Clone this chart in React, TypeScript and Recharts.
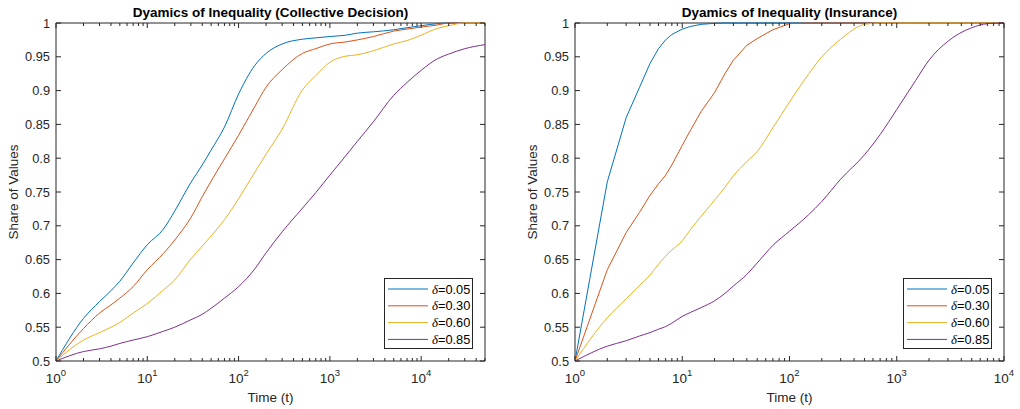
import { LineChart, Line, XAxis, YAxis, ReferenceArea } from "recharts";

// time steps sampled along each curve (log axis)
const leftTime = [1, 2, 3, 4, 5, 7, 10, 15, 20, 30, 40, 50, 70, 100, 150, 200, 300, 500, 700, 1000, 1500, 2000, 3000, 5000, 7000, 10000, 15000, 20000, 30000, 50000];
const leftD005 = [0.5, 0.563, 0.588, 0.604, 0.618, 0.645, 0.672, 0.695, 0.722, 0.764, 0.79, 0.812, 0.846, 0.895, 0.937, 0.955, 0.969, 0.976, 0.978, 0.98, 0.982, 0.985, 0.987, 0.99, 0.993, 0.996, 0.999, 1, 1, 1];
const leftD030 = [0.5, 0.548, 0.571, 0.583, 0.593, 0.61, 0.635, 0.659, 0.679, 0.712, 0.743, 0.766, 0.799, 0.834, 0.876, 0.905, 0.931, 0.955, 0.962, 0.969, 0.972, 0.975, 0.98, 0.988, 0.991, 0.994, 0.997, 1, 1, 1];
const leftD060 = [0.5, 0.531, 0.542, 0.55, 0.557, 0.571, 0.585, 0.605, 0.62, 0.651, 0.67, 0.685, 0.709, 0.74, 0.779, 0.806, 0.843, 0.901, 0.922, 0.942, 0.951, 0.953, 0.959, 0.969, 0.974, 0.982, 0.992, 0.996, 1, 1];
const leftD085 = [0.5, 0.514, 0.518, 0.522, 0.526, 0.531, 0.536, 0.544, 0.55, 0.561, 0.569, 0.578, 0.593, 0.61, 0.636, 0.66, 0.691, 0.726, 0.749, 0.775, 0.804, 0.825, 0.854, 0.893, 0.912, 0.93, 0.947, 0.954, 0.962, 0.968];

const rightTime = [1, 2, 3, 4, 5, 6, 7, 8, 10, 12, 15, 20, 25, 30, 40, 50, 70, 100, 150, 200, 300, 500, 700, 1000, 1500, 2000, 3000, 5000, 7000, 10000];
const rightD005 = [0.5, 0.765, 0.86, 0.905, 0.94, 0.962, 0.975, 0.983, 0.991, 0.995, 0.998, 0.9995, 1, 1, 1, 1, 1, 1, 1, 1, 1, 1, 1, 1, 1, 1, 1, 1, 1, 1];
const rightD030 = [0.5, 0.635, 0.69, 0.72, 0.745, 0.762, 0.775, 0.79, 0.819, 0.842, 0.869, 0.897, 0.925, 0.945, 0.967, 0.977, 0.99, 0.999, 1, 1, 1, 1, 1, 1, 1, 1, 1, 1, 1, 1];
const rightD060 = [0.5, 0.564, 0.592, 0.612, 0.627, 0.643, 0.655, 0.664, 0.678, 0.695, 0.714, 0.738, 0.757, 0.774, 0.795, 0.81, 0.845, 0.883, 0.924, 0.95, 0.976, 0.998, 1, 1, 1, 1, 1, 1, 1, 1];
const rightD085 = [0.5, 0.522, 0.53, 0.537, 0.542, 0.547, 0.551, 0.556, 0.566, 0.572, 0.579, 0.589, 0.6, 0.611, 0.628, 0.645, 0.671, 0.692, 0.716, 0.736, 0.769, 0.805, 0.835, 0.872, 0.915, 0.945, 0.973, 0.993, 0.999, 1];

const deltas = ["0.05", "0.30", "0.60", "0.85"];
const keys = ["d005", "d030", "d060", "d085"];
const colors = ["#0072BD", "#D95319", "#EDB120", "#7E2F8E"];
const yTicks = [0.5, 0.55, 0.6, 0.65, 0.7, 0.75, 0.8, 0.85, 0.9, 0.95, 1];

const FONT = "'Liberation Sans', Arial, Helvetica, sans-serif";
const INK = "#262626";
const W = 510;
const H = 409;
const TOP = 23;
const BOTTOM = 361;

// 1..9 x 10^k, up to the axis max
const logTicks = (max: number) => {
  const out: number[] = [];
  for (let d = 1; d <= max; d *= 10) {
    for (let m = 1; m <= 9; m++) if (m * d <= max) out.push(m * d);
  }
  return out;
};

const makeXTick = () => (props: any) => {
  const { x, payload } = props;
  const v = payload.value;
  const e = Math.round(Math.log10(v));
  const major = Math.abs(Math.pow(10, e) - v) < 1e-6;
  const len = major ? 5 : 3;
  return (
    <g>
      <line x1={x} x2={x} y1={BOTTOM} y2={BOTTOM - len} stroke={INK} strokeWidth={1} />
      <line x1={x} x2={x} y1={TOP} y2={TOP + len} stroke={INK} strokeWidth={1} />
      {major && (
        <text x={x} y={383} textAnchor="middle" fill={INK} fontFamily={FONT} fontSize={13.5}>
          10<tspan dy={-7} fontSize={9.5}>{e}</tspan>
        </text>
      )}
    </g>
  );
};

const makeYTick = (left: number, right: number) => (props: any) => {
  const { y, payload } = props;
  const v = payload.value;
  return (
    <g>
      <line x1={left} x2={left + 5} y1={y} y2={y} stroke={INK} />
      <line x1={right - 5} x2={right} y1={y} y2={y} stroke={INK} />
      <text x={left - 6} y={y + 4.5} textAnchor="end" fill={INK} fontFamily={FONT} fontSize={12.8}>
        {String(v)}
      </text>
    </g>
  );
};

type PanelProps = {
  title: string;
  time: number[];
  series: number[][];
  curve: ("linear" | "monotone")[];
  xMax: number;
  plotLeft: number;
};

const Panel = ({ title, time, series, curve, xMax, plotLeft }: PanelProps) => {
  const plotRight = plotLeft + 429;
  const rows = time.map((t, i) => {
    const r: any = { t };
    keys.forEach((k, j) => (r[k] = series[j][i]));
    return r;
  });
  const cx = (plotLeft + plotRight) / 2;
  const legLeft = plotRight - 101;
  return (
    <div style={{ position: "relative", width: W, height: H }}>
      <LineChart width={W} height={H} data={rows} margin={{ top: TOP, right: W - plotRight, bottom: 0, left: 0 }}>
        <XAxis
          dataKey="t"
          type="number"
          scale="log"
          domain={[1, xMax]}
          ticks={logTicks(xMax)}
          interval={0}
          allowDataOverflow
          tick={makeXTick()}
          tickLine={false}
          axisLine={false}
          height={H - BOTTOM}
        />
        <YAxis
          type="number"
          domain={[0.5, 1]}
          ticks={yTicks}
          interval={0}
          tick={makeYTick(plotLeft, plotRight)}
          tickLine={false}
          axisLine={false}
          width={plotLeft}
        />
        <ReferenceArea x1={1} x2={xMax} y1={0.5} y2={1} fill="none" stroke={INK} strokeWidth={1} />
        {keys.map((k, j) => (
          <Line
            key={k}
            type={curve[j]}
            dataKey={k}
            stroke={colors[j]}
            strokeWidth={1}
            dot={false}
            activeDot={false}
            isAnimationActive={false}
          />
        ))}
      </LineChart>
      <svg width={W} height={H} style={{ position: "absolute", left: 0, top: 0, pointerEvents: "none" }}>
        <text x={cx} y={16.5} textAnchor="middle" fontFamily={FONT} fontWeight="bold" fontSize={13.5} fill="#000">
          {title}
        </text>
        <text x={cx} y={402} textAnchor="middle" fontFamily={FONT} fontSize={13.5} fill={INK}>
          Time (t)
        </text>
        <text
          x={plotLeft - 38}
          y={(TOP + BOTTOM) / 2}
          textAnchor="middle"
          fontFamily={FONT}
          fontSize={13.5}
          fill={INK}
          transform={`rotate(-90 ${plotLeft - 38} ${(TOP + BOTTOM) / 2})`}
        >
          Share of Values
        </text>
        <g transform={`translate(${legLeft},278)`}>
          <rect x={0.5} y={0.5} width={88} height={70} fill="#fff" stroke={INK} />
          {deltas.map((d, j) => {
            const cy = 11 + j * 16.8;
            return (
              <g key={d}>
                <line x1={4} x2={44} y1={cy} y2={cy} stroke={colors[j]} strokeWidth={1} />
                <text x={48} y={cy + 4.5} fontFamily={FONT} fontSize={12.8} fill="#000">
                  <tspan fontFamily="'Liberation Serif', serif" fontStyle="italic">δ</tspan>=
                  {d}
                </text>
              </g>
            );
          })}
        </g>
      </svg>
    </div>
  );
};

export default function App() {
  return (
    <div style={{ position: "absolute", left: 0, top: 0, width: 1020, height: 409, background: "#fff", display: "flex" }}>
      <Panel
        title="Dyamics of Inequality (Collective Decision)"
        time={leftTime}
        series={[leftD005, leftD030, leftD060, leftD085]}
        curve={["monotone", "monotone", "monotone", "monotone"]}
        xMax={50000}
        plotLeft={56}
      />
      <Panel
        title="Dyamics of Inequality (Insurance)"
        time={rightTime}
        series={[rightD005, rightD030, rightD060, rightD085]}
        curve={["linear", "linear", "monotone", "monotone"]}
        xMax={10000}
        plotLeft={65}
      />
    </div>
  );
}
